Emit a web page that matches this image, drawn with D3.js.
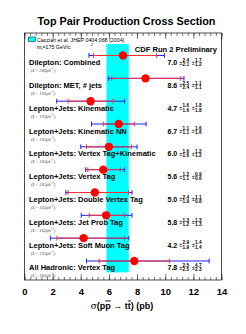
<!DOCTYPE html>
<html>
<head>
<meta charset="utf-8">
<script src="https://cdn.jsdelivr.net/npm/d3@7"></script>
<style>
  body { margin: 0; background: #fff; }
  svg { display: block; font-family: "Liberation Sans", Arial, sans-serif; }
</style>
</head>
<body>
<svg id="chart"></svg>
<script>
// measurements, top to bottom
const labels = [
  "Dilepton: Combined",
  "Dilepton: MET, # jets",
  "Lepton+Jets: Kinematic",
  "Lepton+Jets: Kinematic NN",
  "Lepton+Jets: Vertex Tag+Kinematic",
  "Lepton+Jets: Vertex Tag",
  "Lepton+Jets: Double Vertex Tag",
  "Lepton+Jets: Jet Prob Tag",
  "Lepton+Jets: Soft Muon Tag",
  "All Hadronic: Vertex Tag"
];
const lumis = ["200", "193", "193", "193", "162", "162", "162", "162", "193", "165"];
const xsec = [7.0, 8.6, 4.7, 6.7, 6.0, 5.6, 5.0, 5.8, 4.2, 7.8];
const statUp = [2.4, 2.5, 1.6, 1.1, 1.6, 1.2, 2.4, 1.3, 2.9, 2.5];
const statDn = [2.1, 2.4, 1.6, 1.1, 1.6, 1.1, 1.9, 1.2, 1.9, 2.5];
const systUp = [1.7, 1.1, 1.8, 1.6, 1.2, 0.9, 1.1, 1.3, 1.4, 4.7];
const systDn = [1.2, 1.1, 1.8, 1.6, 1.2, 0.6, 0.8, 1.3, 1.4, 2.3];

// theory band (Cacciari et al.)
const theoryBand = [5.82, 7.41];

const xTicks = [0, 2, 4, 6, 8, 10, 12, 14];
const xMinorStep = 0.4;

class CrossSectionChart {

  constructor(_config) {
    this.config = {
      parentElement: _config.parentElement,
      containerWidth: 246,
      containerHeight: 334,
      frame: { left: 24.5, right: 221.5, top: 33, bottom: 280 },
      band: { top: 44.1, bottom: 272.4 }
    };
    this.initVis();
  }

  initVis() {
    let vis = this;
    const f = vis.config.frame;

    vis.svg = d3.select(vis.config.parentElement)
        .attr("width", vis.config.containerWidth)
        .attr("height", vis.config.containerHeight);

    vis.xScale = d3.scaleLinear()
        .domain([0, 14])
        .range([f.left, f.right]);

    vis.yScale = d3.scaleBand()
        .domain(labels)
        .range([vis.config.band.top, vis.config.band.bottom])
        .padding(0);

    vis.layerBand = vis.svg.append("g");
    vis.layerFrame = vis.svg.append("g");
    vis.layerBars = vis.svg.append("g");
    vis.layerText = vis.svg.append("g");

    // title
    vis.svg.append("text")
        .attr("x", 126.5)
        .attr("y", 25)
        .attr("text-anchor", "middle")
        .attr("font-size", 10.8)
        .attr("font-weight", "bold")
        .text("Top Pair Production Cross Section");
  }

  updateVis() {
    let vis = this;
    vis.data = labels.map((name, i) => ({
      name: name,
      lumi: lumis[i],
      value: xsec[i],
      statUp: statUp[i],
      statDn: statDn[i],
      systUp: systUp[i],
      systDn: systDn[i],
      totUp: Math.sqrt(statUp[i] ** 2 + systUp[i] ** 2),
      totDn: Math.sqrt(statDn[i] ** 2 + systDn[i] ** 2)
    }));
    vis.renderVis();
  }

  renderVis() {
    let vis = this;
    const f = vis.config.frame;
    const x = vis.xScale;
    const y = d => vis.yScale(d.name) + vis.yScale.bandwidth() / 2;

    // theory band
    vis.layerBand.append("rect")
        .attr("x", x(theoryBand[0]))
        .attr("width", x(theoryBand[1]) - x(theoryBand[0]))
        .attr("y", vis.config.band.top)
        .attr("height", vis.config.band.bottom - vis.config.band.top)
        .attr("fill", "#00ffff");

    // frame
    vis.layerFrame.append("rect")
        .attr("x", f.left)
        .attr("y", f.top)
        .attr("width", f.right - f.left)
        .attr("height", f.bottom - f.top)
        .attr("fill", "none")
        .attr("stroke", "#222")
        .attr("stroke-width", 0.8);

    // ticks pointing inward on top and bottom
    const minor = d3.range(0, 14 + 1e-6, xMinorStep);
    vis.layerFrame.append("g")
        .attr("transform", `translate(0,${f.bottom})`)
        .call(d3.axisBottom(x).tickValues(minor).tickSize(-3).tickFormat(""));
    vis.layerFrame.append("g")
        .attr("transform", `translate(0,${f.top})`)
        .call(d3.axisTop(x).tickValues(minor).tickSize(-3).tickFormat(""));
    const labelAxis = vis.layerFrame.append("g")
        .attr("transform", `translate(0,${f.bottom})`)
        .call(d3.axisBottom(x).tickValues(xTicks).tickSize(-6).tickPadding(8.5).tickFormat(d3.format("d")));
    vis.layerFrame.append("g")
        .attr("transform", `translate(0,${f.top})`)
        .call(d3.axisTop(x).tickValues(xTicks).tickSize(-6).tickFormat(""));
    vis.layerFrame.selectAll(".domain").remove();
    vis.layerFrame.selectAll(".tick line").attr("stroke", "#222").attr("stroke-width", 0.6);
    labelAxis.selectAll("text")
        .attr("font-size", 9.5)
        .attr("font-weight", "bold")
        .attr("font-family", "Liberation Sans, Arial, sans-serif")
        .attr("fill", "#000");

    // x axis title
    const xt = vis.svg.append("text")
        .attr("x", 122)
        .attr("y", 308.5)
        .attr("text-anchor", "middle")
        .attr("font-size", 9)
        .attr("font-weight", "bold");
    xt.append("tspan").attr("font-weight", "normal").attr("font-family", "DejaVu Serif, serif").text("σ");
    xt.append("tspan").text("(p");
    xt.append("tspan").style("text-decoration", "overline").text("p");
    xt.append("tspan").text(" → t");
    xt.append("tspan").style("text-decoration", "overline").text("t");
    xt.append("tspan").text(") (pb)");

    // total error (blue)
    const rows = vis.layerBars.selectAll("g.row")
        .data(vis.data)
        .join("g")
        .attr("class", "row");

    rows.append("line")
        .attr("x1", d => x(d.value - d.totDn))
        .attr("x2", d => x(d.value + d.totUp))
        .attr("y1", y).attr("y2", y)
        .attr("stroke", "#1f1fff")
        .attr("stroke-width", 1);
    rows.selectAll("line.capTot")
        .data(d => [[d.value - d.totDn, y(d)], [d.value + d.totUp, y(d)]])
        .join("line")
        .attr("class", "capTot")
        .attr("x1", d => x(d[0])).attr("x2", d => x(d[0]))
        .attr("y1", d => d[1] - 2.4).attr("y2", d => d[1] + 2.4)
        .attr("stroke", "#1f1fff")
        .attr("stroke-width", 1);

    // statistical error (red)
    rows.append("line")
        .attr("x1", d => x(d.value - d.statDn))
        .attr("x2", d => x(d.value + d.statUp))
        .attr("y1", y).attr("y2", y)
        .attr("stroke", "#ff3030")
        .attr("stroke-width", 1);
    rows.selectAll("line.capStat")
        .data(d => [[d.value - d.statDn, y(d)], [d.value + d.statUp, y(d)]])
        .join("line")
        .attr("class", "capStat")
        .attr("x1", d => x(d[0])).attr("x2", d => x(d[0]))
        .attr("y1", d => d[1] - 2.4).attr("y2", d => d[1] + 2.4)
        .attr("stroke", "#ff3030")
        .attr("stroke-width", 1);

    // central values
    rows.append("circle")
        .attr("cx", d => x(d.value))
        .attr("cy", y)
        .attr("r", 4.2)
        .attr("fill", "#ff0000");

    // labels
    const txt = vis.layerText.selectAll("g.lab")
        .data(vis.data)
        .join("g")
        .attr("class", "lab")
        .attr("transform", d => `translate(0,${y(d) + 9.5})`);

    txt.append("text")
        .attr("x", 29)
        .attr("font-size", 7.5)
        .attr("font-weight", "bold")
        .text(d => d.name);

    const lumi = txt.append("text")
        .attr("x", 31)
        .attr("y", 7)
        .attr("font-size", 4.6)
        .attr("font-style", "italic")
        .attr("font-family", "Liberation Serif, serif")
        .attr("fill", "#444");
    lumi.append("tspan").text(d => `(L= ${d.lumi}pb`);
    lumi.append("tspan").attr("dy", -2).attr("font-size", 3.4).text("-1");
    lumi.append("tspan").attr("dy", 2).text(")");

    txt.append("text")
        .attr("x", 167.5)
        .attr("font-size", 7)
        .attr("font-weight", "bold")
        .text(d => d3.format(".1f")(d.value));
    const frac = [
      { pm: 179.3, x: 182.5, up: "statUp", dn: "statDn" },
      { pm: 191.8, x: 195, up: "systUp", dn: "systDn" }
    ];
    frac.forEach(fr => {
      txt.append("text")
          .attr("x", fr.pm).attr("y", -0.5)
          .attr("font-size", 5.5)
          .text("±");
      txt.append("text")
          .attr("x", fr.x).attr("y", -3.3)
          .attr("font-size", 4.7)
          .attr("font-weight", "bold")
          .text(d => d3.format(".1f")(d[fr.up]));
      txt.append("text")
          .attr("x", fr.x).attr("y", 0.9)
          .attr("font-size", 4.7)
          .attr("font-weight", "bold")
          .text(d => d3.format(".1f")(d[fr.dn]));
    });

    // legend
    vis.svg.append("rect")
        .attr("x", 28.3).attr("y", 37)
        .attr("width", 7.3).attr("height", 4.5)
        .attr("fill", "#00ffff")
        .attr("stroke", "#000")
        .attr("stroke-width", 0.5);
    vis.svg.append("text")
        .attr("x", 37).attr("y", 41.5)
        .attr("font-size", 5.3)
        .text("Cacciari et al. JHEP 0404:068 (2004)");
    const mt = vis.svg.append("text")
        .attr("x", 37).attr("y", 48.6)
        .attr("font-size", 5.3);
    mt.append("tspan").text("m");
    mt.append("tspan").attr("dy", 1).attr("font-size", 3.6).text("t");
    mt.append("tspan").attr("dy", -1).text("=175 GeV/c");
    vis.svg.append("text")
        .attr("x", 91).attr("y", 46)
        .attr("font-size", 3.6)
        .text("2");

    vis.svg.append("text")
        .attr("x", 217)
        .attr("y", 52)
        .attr("text-anchor", "end")
        .attr("font-size", 7.6)
        .attr("font-weight", "bold")
        .text("CDF Run 2 Preliminary");
  }
}

const chart = new CrossSectionChart({ parentElement: "#chart" });
chart.updateVis();
</script>
</body>
</html>
